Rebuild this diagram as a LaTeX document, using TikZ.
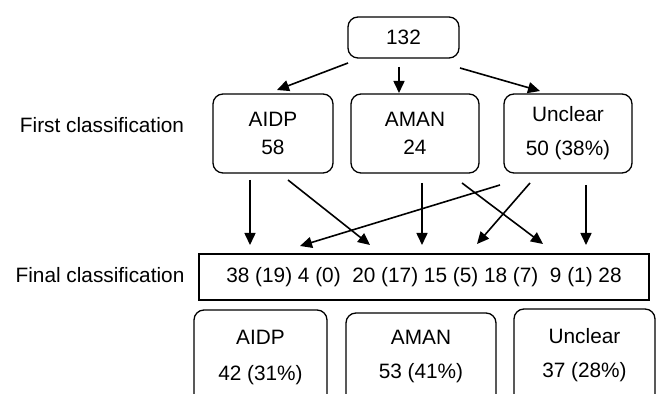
\documentclass[tikz,border=0pt]{standalone}
\usepackage{fontspec}
\setmainfont{Liberation Sans}
\usetikzlibrary{arrows.meta}
\begin{document}
\begin{tikzpicture}[x=0.5pt,y=-0.5pt,
  every node/.style={font=\fontsize{10.4}{14}\selectfont, inner sep=0pt},
  rbox/.style={draw, line width=0.65pt, rounded corners=5pt, align=center},
  sbox/.style={draw, line width=0.65pt},
  arr/.style={line width=0.8pt, -{Triangle[length=6pt,width=5.5pt]}}]
\clip (0,0) rectangle (660,394);
\useasboundingbox (0,0) rectangle (660,394);
\fill[white] (0,0) rectangle (660,394);
% top
\node[rbox, minimum width=55.5pt, minimum height=20.5pt] (top) at (403.5,37.5) {132};
% first classification
\node (lab1) at (102,125) {First classification};
\node[rbox, minimum width=60pt, minimum height=39.5pt] (a1) at (273,133.5) {AIDP\\[0pt]58};
\node[rbox, minimum width=64pt, minimum height=39.5pt] (m1) at (415,133.5) {AMAN\\[0pt]24};
\node[rbox, minimum width=64pt, minimum height=39.5pt] (u1) at (568,133.5) {Unclear\\[3pt]50 (38\%)};
% final
\node (lab2) at (100,275) {Final classification};
\node[sbox, minimum width=225pt, minimum height=23pt] (fin) at (424,277) {38 (19) 4 (0)\ \ 20 (17) 15 (5) 18 (7)\ \ 9 (1) 28};
% bottom
\node[rbox, minimum width=66.5pt, minimum height=55pt] (a2) at (260.5,365) {};
\node[rbox, minimum width=75pt, minimum height=55pt] (m2) at (421,368) {};
\node[rbox, minimum width=70.5pt, minimum height=55pt] (u2) at (584.5,364) {};
\node[align=center] (a2t) at (260.5,358) {AIDP\\[4pt]42 (31\%)};
\node[align=center] (m2t) at (421,357) {AMAN\\[3pt]53 (41\%)};
\node[align=center] (u2t) at (584.5,355) {Unclear\\[3pt]37 (28\%)};
% coordinates for connectors
\coordinate (t1) at (348,63);   \coordinate (t1e) at (277,90);
\coordinate (t2) at (399,67);   \coordinate (t2e) at (399,93);
\coordinate (t3) at (460,68);   \coordinate (t3e) at (540,91);
\coordinate (s1) at (250,180);  \coordinate (e1) at (250,245);
\coordinate (s2) at (288,180);  \coordinate (e2) at (370,245);
\coordinate (s3) at (422,183);  \coordinate (e3) at (422,245);
\coordinate (s4) at (462,183);  \coordinate (e4) at (543,244);
\coordinate (s5) at (500,185);  \coordinate (e5) at (300,246);
\coordinate (s6) at (530,183);  \coordinate (e6) at (477,244);
\coordinate (s7) at (586,185);  \coordinate (e7) at (586,245);
\draw[arr] (t1) -- (t1e);
\draw[arr] (t2) -- (t2e);
\draw[arr] (t3) -- (t3e);
\draw[arr] (s1) -- (e1);
\draw[arr] (s2) -- (e2);
\draw[arr] (s3) -- (e3);
\draw[arr] (s4) -- (e4);
\draw[arr] (s5) -- (e5);
\draw[arr] (s6) -- (e6);
\draw[arr] (s7) -- (e7);
\end{tikzpicture}
\end{document}
